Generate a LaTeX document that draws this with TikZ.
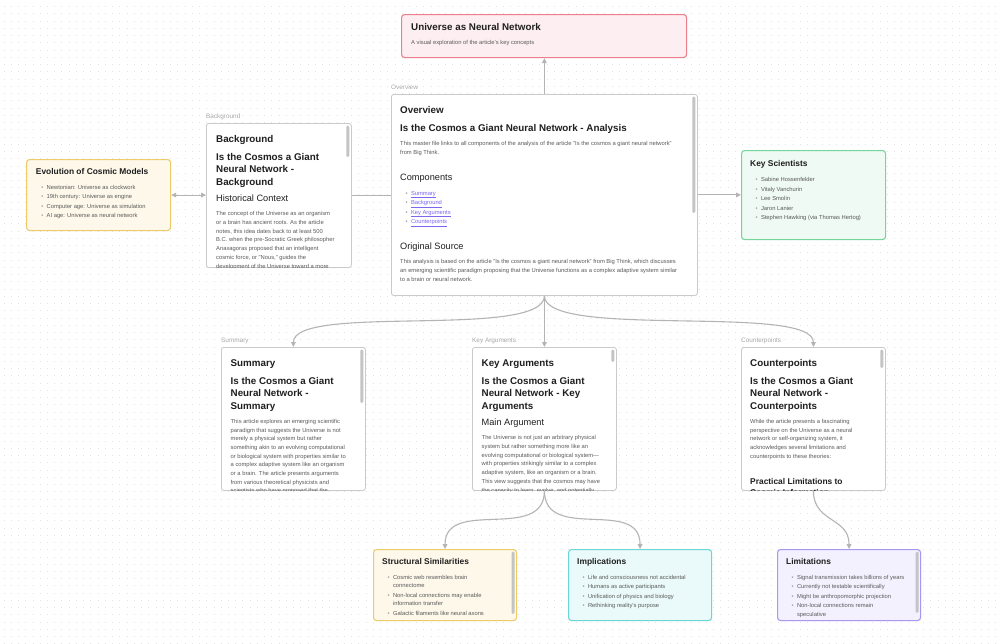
\documentclass[tikz,border=0pt]{standalone}
\usepackage{fontspec}
\setmainfont{Liberation Sans}
\usetikzlibrary{positioning}
\usetikzlibrary{arrows.meta}
\usetikzlibrary{shadows}

\definecolor{dotgray}{HTML}{E3E3E3}
\definecolor{edgegray}{HTML}{B4B4B4}
\definecolor{cardline}{HTML}{CACACA}
\definecolor{labelgray}{HTML}{A8A8A8}
\definecolor{inkdark}{HTML}{1F1F1F}
\definecolor{inkbody}{HTML}{5A5A5A}
\definecolor{bulletgray}{HTML}{9A9A9A}
\definecolor{linkpurple}{HTML}{7B68EE}
\definecolor{scrollgray}{HTML}{C4C4C4}
\definecolor{redline}{HTML}{EC7F8B}
\definecolor{redfill}{HTML}{FDEEF1}
\definecolor{yellowline}{HTML}{EDCB6B}
\definecolor{yellowfill}{HTML}{FDF8EA}
\definecolor{greenline}{HTML}{76D598}
\definecolor{greenfill}{HTML}{EEFAF3}
\definecolor{cyanline}{HTML}{6DD5D5}
\definecolor{cyanfill}{HTML}{EAF9F9}
\definecolor{purpleline}{HTML}{A996F3}
\definecolor{purplefill}{HTML}{F3F1FE}

% fonts of the card texts (natural word spaces of each size)
\newcommand{\cardfont}[2]{\fontsize{#1}{#2}\selectfont\spaceskip=0pt\xspaceskip=0pt}
\newcommand{\hone}[1]{{\cardfont{9.8}{12.5}\bfseries\rule{0pt}{7.6pt}\color{inkdark}#1\par}\vspace{5.5pt}}
\newcommand{\htwo}[1]{{\cardfont{9.2}{11}\rule{0pt}{6.8pt}\color{inkdark}#1\par}\vspace{5.5pt}}
\newcommand{\hthree}[1]{{\cardfont{8.4}{11}\bfseries\rule{0pt}{6.4pt}\color{inkdark}#1\par}\vspace{5.3pt}}
\newcommand{\ctext}[1]{{\cardfont{5.8}{8.7}#1\par}}
\newcommand{\citem}[1]{\vspace{0.8pt}{\cardfont{5.8}{8.7}\leftskip=10.8pt\noindent\llap{{\color{bulletgray}\textbullet}\hspace{3.4pt}}#1\par}}
\newcommand{\clink}[1]{{\color{linkpurple}\underline{#1}}}

\begin{document}
\begin{tikzpicture}[x=1pt, y=-1pt,
		card/.style={draw=cardline, line width=0.8pt, fill=white, rounded corners=2.5pt, anchor=north west, inner sep=0pt,
			drop shadow={shadow xshift=0pt, shadow yshift=-0.8pt, opacity=0.10}},
		notecard/.style={line width=1.1pt, rounded corners=3pt, anchor=north west, inner sep=0pt},
		cardbody/.style={anchor=north west, inner sep=0pt, align=left, text=inkbody, text width=#1},
		cardlabel/.style={font=\fontsize{6.4}{7}\selectfont, text=labelgray, inner sep=0pt, anchor=base west},
		wire/.style={draw=edgegray, line width=1.1pt, -{Triangle[length=5pt,width=4.6pt]}},
		scrollbar/.style={fill=scrollgray, rounded corners=1.4pt},
		dotrow/.style={draw=dotgray, line width=0.9pt, dash pattern=on 0.9pt off 6.34pt}]
		\useasboundingbox (0,0) rectangle (1000,643);
		\fill[white] (0,0) rectangle (1000,643);
		\foreach \k in {0,...,88}
			\draw[dotrow] (3.55, 6.7+\k*7.24) -- (1000, 6.7+\k*7.24);
		
		% cards
		\node[notecard, draw=redline, fill=redfill, minimum width=285, minimum height=43] (title) at (401,14) {};
		\node[card, minimum width=306, minimum height=201] (ov) at (391,94) {};
		\node[card, minimum width=145, minimum height=144] (bg) at (206,123) {};
		\node[notecard, draw=yellowline, fill=yellowfill, minimum width=144, minimum height=71] (evo) at (26,159) {};
		\node[notecard, draw=greenline, fill=greenfill, minimum width=144, minimum height=89] (sci) at (741,150) {};
		\node[card, minimum width=144, minimum height=143] (sum) at (221,347) {};
		\node[card, minimum width=144, minimum height=143] (args) at (472,347) {};
		\node[card, minimum width=144, minimum height=143] (cp) at (741,347) {};
		\node[notecard, draw=yellowline, fill=yellowfill, minimum width=143, minimum height=71] (sim) at (373,549) {};
		\node[notecard, draw=cyanline, fill=cyanfill, minimum width=143, minimum height=71] (impl) at (568,549) {};
		\node[notecard, draw=purpleline, fill=purplefill, minimum width=143, minimum height=71] (lim) at (777,549) {};
		
		\node[cardlabel] (ov-label) at ([yshift=4.3pt]ov.north west) {Overview};
		\node[cardlabel] (bg-label) at ([yshift=4.3pt]bg.north west) {Background};
		\node[cardlabel] (sum-label) at ([yshift=4.3pt]sum.north west) {Summary};
		\node[cardlabel] (args-label) at ([yshift=4.3pt]args.north west) {Key Arguments};
		\node[cardlabel] (cp-label) at ([yshift=4.3pt]cp.north west) {Counterpoints};
		
		% connectors
		\draw[wire] (ov.north) -- (ov.north |- title.south);
		\draw[wire, -] (bg.east) -- (bg.east -| ov.west);
		\draw[wire, {Triangle[length=5pt,width=4.6pt]}-{Triangle[length=5pt,width=4.6pt]}] (evo.east) -- (evo.east -| bg.west);
		\draw[wire] (ov.east) -- (ov.east -| sci.west);
		\draw[wire] (ov.south) .. controls +(0,44) and +(0,-44) .. (sum.north);
		\draw[wire] (ov.south) -- (args.north);
		\draw[wire] (ov.south) .. controls +(0,44) and +(0,-44) .. (cp.north);
		\draw[wire] (args.south) .. controls +(0,52) and +(0,-52) .. (sim.north);
		\draw[wire] (args.south) .. controls +(0,52) and +(0,-52) .. (impl.north);
		\draw[wire] (cp.south) .. controls +(0,32) and +(0,-32) .. (lim.north);
		
		% texts
		\node[cardbody=270pt] (title-text) at ([xshift=10pt,yshift=-8.7pt]title.north west) {%
			\hone{Universe as Neural Network}
			\ctext{A visual exploration of the article's key concepts}};
		
		\begin{scope}
			\clip[rounded corners=2.5pt] (ov.north west) rectangle (ov.south east);
			\node[cardbody=290pt] (ov-text) at ([xshift=9pt,yshift=-11.3pt]ov.north west) {%
				\hone{Overview}
				\hone{Is the Cosmos a Giant Neural Network - Analysis}
				\ctext{This master file links to all components of the analysis of the article "Is the cosmos a giant neural network"\\from Big Think.}
				\vspace{15pt}
				\htwo{Components}
				\citem{\clink{Summary}}
				\citem{\clink{Background}}
				\citem{\clink{Key Arguments}}
				\citem{\clink{Counterpoints}}
				\vspace{15pt}
				\htwo{Original Source}
				\ctext{This analysis is based on the article "Is the cosmos a giant neural network" from Big Think, which discusses\\an emerging scientific paradigm proposing that the Universe functions as a complex adaptive system similar\\to a brain or neural network.}};
		\end{scope}
		
		\begin{scope}
			\clip[rounded corners=2.5pt] (bg.north west) rectangle (bg.south east);
			\node[cardbody=200pt] (bg-text) at ([xshift=10pt,yshift=-11.3pt]bg.north west) {%
				\hone{Background}
				\hone{Is the Cosmos a Giant\\Neural Network -\\Background}
				\htwo{Historical Context}
				\ctext{The concept of the Universe as an organism\\or a brain has ancient roots. As the article\\notes, this idea dates back to at least 500\\B.C. when the pre-Socratic Greek philosopher\\Anaxagoras proposed that an intelligent\\cosmic force, or "Nous," guides the\\development of the Universe toward a more}};
		\end{scope}
		
		\begin{scope}
			\clip[rounded corners=2.5pt] (sum.north west) rectangle (sum.south east);
			\node[cardbody=200pt] (sum-text) at ([xshift=9.5pt,yshift=-11.3pt]sum.north west) {%
				\hone{Summary}
				\hone{Is the Cosmos a Giant\\Neural Network -\\Summary}
				\ctext{This article explores an emerging scientific\\paradigm that suggests the Universe is not\\merely a physical system but rather\\something akin to an evolving computational\\or biological system with properties similar to\\a complex adaptive system like an organism\\or a brain. The article presents arguments\\from various theoretical physicists and\\scientists who have proposed that the}};
		\end{scope}
		
		\begin{scope}
			\clip[rounded corners=2.5pt] (args.north west) rectangle (args.south east);
			\node[cardbody=200pt] (args-text) at ([xshift=9.5pt,yshift=-11.3pt]args.north west) {%
				\hone{Key Arguments}
				\hone{Is the Cosmos a Giant\\Neural Network - Key\\Arguments}
				\htwo{Main Argument}
				\ctext{The Universe is not just an arbitrary physical\\system but rather something more like an\\evolving computational or biological system—\\with properties strikingly similar to a complex\\adaptive system, like an organism or a brain.\\This view suggests that the cosmos may have\\the capacity to learn, evolve, and potentially}};
		\end{scope}
		
		\begin{scope}
			\clip[rounded corners=2.5pt] (cp.north west) rectangle (cp.south east);
			\node[cardbody=200pt] (cp-text) at ([xshift=9pt,yshift=-11.3pt]cp.north west) {%
				\hone{Counterpoints}
				\hone{Is the Cosmos a Giant\\Neural Network -\\Counterpoints}
				\ctext{While the article presents a fascinating\\perspective on the Universe as a neural\\network or self-organizing system, it\\acknowledges several limitations and\\counterpoints to these theories:}
				\vspace{15pt}
				\hthree{Practical Limitations to\\Cosmic Information}};
		\end{scope}
		
		\node[cardbody=130pt] (evo-text) at ([xshift=9.7pt,yshift=-9pt]evo.north west) {%
			\hthree{Evolution of Cosmic Models}
			\citem{Newtonian: Universe as clockwork}
			\citem{19th century: Universe as engine}
			\citem{Computer age: Universe as simulation}
			\citem{AI age: Universe as neural network}};
		\node[cardbody=130pt] (sci-text) at ([xshift=9pt,yshift=-10.3pt]sci.north west) {%
			\hthree{Key Scientists}
			\citem{Sabine Hossenfelder}
			\citem{Vitaly Vanchurin}
			\citem{Lee Smolin}
			\citem{Jaron Lanier}
			\citem{Stephen Hawking (via Thomas Hertog)}};
		\node[cardbody=130pt] (sim-text) at ([xshift=9pt,yshift=-8.6pt]sim.north west) {%
			\hthree{Structural Similarities}
			\citem{Cosmic web resembles brain\\connectome}
			\citem{Non-local connections may enable\\information transfer}
			\citem{Galactic filaments like neural axons}};
		\node[cardbody=130pt] (impl-text) at ([xshift=9pt,yshift=-8.6pt]impl.north west) {%
			\hthree{Implications}
			\citem{Life and consciousness not accidental}
			\citem{Humans as active participants}
			\citem{Unification of physics and biology}
			\citem{Rethinking reality's purpose}};
		\node[cardbody=130pt] (lim-text) at ([xshift=9pt,yshift=-8.6pt]lim.north west) {%
			\hthree{Limitations}
			\citem{Signal transmission takes billions of years}
			\citem{Currently not testable scientifically}
			\citem{Might be anthropomorphic projection}
			\citem{Non-local connections remain\\speculative}};
		
		% scrollbars
		\foreach \c/\len in {ov/119, bg/34, sum/56, args/15, cp/21, sim/65, lim/64}
			\fill[scrollbar] ([xshift=-5.5pt,yshift=-2.5pt]\c.north east) rectangle ([xshift=-2.5pt,yshift=-\len pt]\c.north east);
	\end{tikzpicture}
\end{document}
